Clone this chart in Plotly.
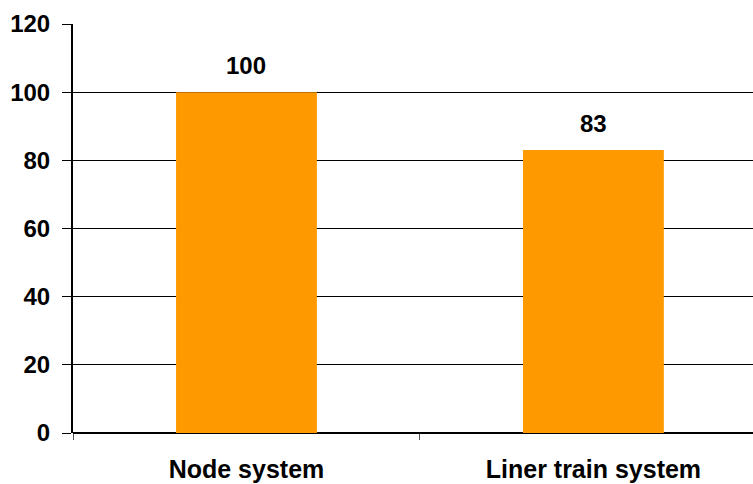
import plotly.graph_objects as go

categories = ["Node system", "Liner train system"]
values = [100, 83]
y_ticks = [0, 20, 40, 60, 80, 100, 120]

FONT = "Liberation Sans, Arial, sans-serif"

fig = go.Figure()
fig.add_trace(go.Bar(
    x=categories, y=values,
    marker=dict(color="#FF9900", line=dict(width=0)),
    width=0.406,
))

for c, v in zip(categories, values):
    fig.add_annotation(
        x=c, y=v, text=f"<b>{v}</b>", showarrow=False,
        yanchor="bottom", yshift=11,
        font=dict(family=FONT, size=24, color="black"),
    )

fig.update_layout(
    width=753, height=484,
    margin=dict(l=73, r=0, t=24, b=51, autoexpand=False),
    paper_bgcolor="white", plot_bgcolor="white",
    showlegend=False,
    font=dict(family=FONT, color="black"),
)
fig.update_xaxes(
    type="category", range=[-0.5, 1.46], automargin=False,
    tickson="boundaries", ticks="outside", ticklen=6, tickcolor="#555",
    showline=False, showgrid=False, zeroline=False,
    tickfont=dict(family=FONT, size=25, color="black"),
    tickvals=categories, ticktext=[f"<b>{c}</b>" for c in categories],
    ticklabelstandoff=19,
)
fig.update_yaxes(
    range=[0, 120], automargin=False,
    tickvals=y_ticks, ticktext=[f"<b>{t}</b>" for t in y_ticks],
    showgrid=True, gridcolor="black", gridwidth=1,
    showline=True, linecolor="black", linewidth=2,
    zeroline=True, zerolinecolor="black", zerolinewidth=2,
    ticks="outside", ticklen=9, tickcolor="black",
    tickfont=dict(family=FONT, size=24, color="black"),
    ticklabelstandoff=7,
)
fig.write_html(
    "out.html",
    config={"displayModeBar": False},
    post_script="document.body.style.margin='0';document.body.style.overflow='hidden';",
)
